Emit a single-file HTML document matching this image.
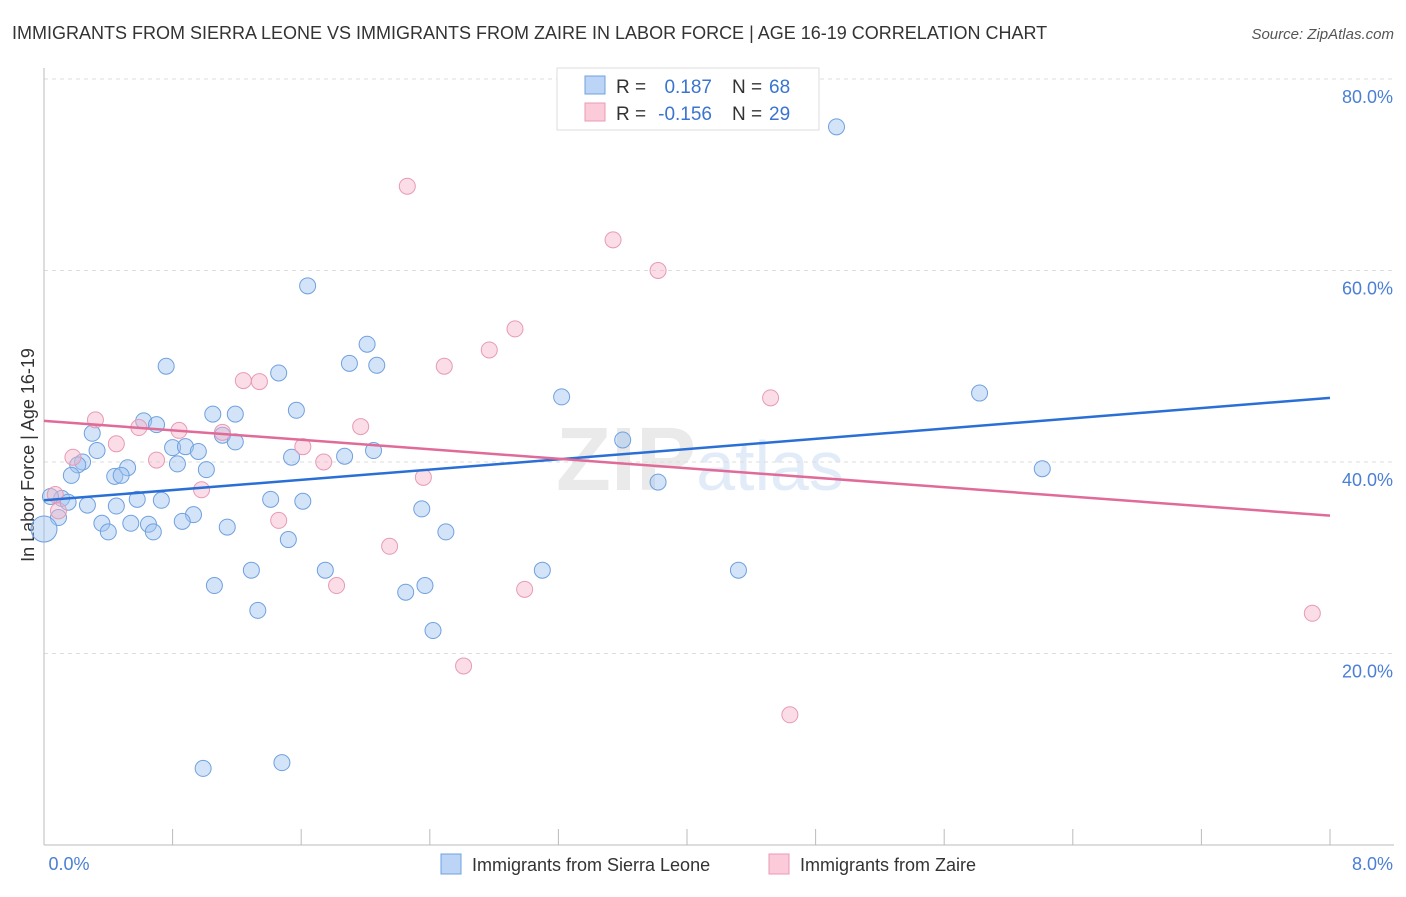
<!DOCTYPE html>
<html><head><meta charset="utf-8"><style>
body{margin:0;background:#fff;font-family:"Liberation Sans",sans-serif;}
svg text{font-family:"Liberation Sans",sans-serif;}
</style></head><body>
<svg id="chart" width="1406" height="892">
<text x="12" y="39" font-size="18" fill="#333">IMMIGRANTS FROM SIERRA LEONE VS IMMIGRANTS FROM ZAIRE IN LABOR FORCE | AGE 16-19 CORRELATION CHART</text>
<text x="1394" y="39" font-size="15" fill="#555" text-anchor="end" font-style="italic">Source: ZipAtlas.com</text>
<text x="34" y="455" font-size="18" fill="#333" text-anchor="middle" transform="rotate(-90 34 455)">In Labor Force | Age 16-19</text>
<text x="700" y="490" font-size="90" fill="#ddd" text-anchor="middle" font-family="Liberation Serif" font-weight="bold" opacity="0.6">ZIP<tspan fill="#cfe0f5" font-family="Liberation Sans" font-weight="normal" font-size="70">atlas</tspan></text>
<g id="grid"></g><g id="pts"></g><g id="lines"></g>
<text x="69" y="870" font-size="18" fill="#4a7fd4" text-anchor="middle">0.0%</text>
<text x="1393" y="870" font-size="18" fill="#4a7fd4" text-anchor="end">8.0%</text>
<g>
<rect x="557" y="68" width="262" height="62" fill="#fff" stroke="#ddd"/>
<rect x="585" y="76" width="20" height="18" fill="#bcd4f5" stroke="#6fa0e0"/>
<rect x="585" y="103" width="20" height="18" fill="#fbcbd9" stroke="#e89ab5"/>
<text x="616" y="93" font-size="19" fill="#333">R =</text>
<text x="712" y="93" font-size="19" fill="#3a74d0" text-anchor="end">0.187</text>
<text x="732" y="93" font-size="19" fill="#333">N =</text>
<text x="769" y="93" font-size="19" fill="#3a74d0">68</text>
<text x="616" y="120" font-size="19" fill="#333">R =</text>
<text x="712" y="120" font-size="19" fill="#3a74d0" text-anchor="end">-0.156</text>
<text x="732" y="120" font-size="19" fill="#333">N =</text>
<text x="769" y="120" font-size="19" fill="#3a74d0">29</text>
</g>
<g>
<rect x="441" y="854" width="20" height="20" fill="#bcd4f5" stroke="#6fa0e0"/>
<text x="472" y="871" font-size="18" fill="#333">Immigrants from Sierra Leone</text>
<rect x="769" y="854" width="20" height="20" fill="#fbcbd9" stroke="#e89ab5"/>
<text x="800" y="871" font-size="18" fill="#333">Immigrants from Zaire</text>
</g>
</svg>
<script>
const yTicks=[20,40,60,80];
const yTickLabels=["20.0%","40.0%","60.0%","80.0%"];
const blueX=[4.93,1.64,2.01,1.46,1.9,2.07,0.76,3.22,5.82,1.57,1.05,1.19,0.62,0.70,0.30,1.11,1.19,0.80,0.88,0.96,3.60,0.33,2.05,1.54,1.87,0.24,0.21,0.83,0.52,1.01,0.44,0.48,0.17,6.21,0.11,0.15,0.27,0.58,0.73,1.41,1.61,0.45,2.35,0.93,0.86,0.09,0.36,0.54,0.65,0.40,1.14,1.52,0.68,2.50,3.82,1.29,1.75,3.10,4.32,1.06,2.37,2.25,1.33,2.42,0.99,1.48,0.0,0.04];
const blueY=[75.0,58.4,52.3,49.3,50.3,50.1,50.0,46.8,47.2,45.4,45.0,45.0,44.3,43.9,43.0,42.8,42.1,41.5,41.6,41.1,42.3,41.2,41.2,40.5,40.6,40.0,39.7,39.8,39.4,39.2,38.5,38.6,38.6,39.3,36.2,35.8,35.5,36.1,36.0,36.1,35.9,35.4,35.1,34.5,33.8,34.2,33.6,33.6,33.5,32.7,33.2,31.9,32.7,32.7,37.9,28.7,28.7,28.7,28.7,27.1,27.1,26.4,24.5,22.4,8.0,8.6,33.0,36.4];
const pinkX=[2.26,3.54,3.82,2.93,2.77,2.49,1.24,1.34,4.52,0.32,0.59,0.84,1.11,0.45,1.61,1.97,0.18,0.70,1.74,2.36,0.98,1.46,2.15,1.82,2.99,2.61,4.64,7.89,0.07,0.09];
const pinkY=[68.8,63.2,60.0,53.9,51.7,50.0,48.5,48.4,46.7,44.4,43.6,43.3,43.1,41.9,41.6,43.7,40.5,40.2,40.0,38.4,37.1,33.9,31.2,27.1,26.7,18.7,13.6,24.2,36.6,34.9];
const blueTrend=[36.0,46.7];
const pinkTrend=[44.3,34.4];
const X=v=>44+v/8*1286, Y=v=>845-v*9.575;
const NS="http://www.w3.org/2000/svg";
function mk(t,a,p){const e=document.createElementNS(NS,t);for(const k in a)e.setAttribute(k,a[k]);p.appendChild(e);return e;}
const g=document.getElementById('grid');
yTicks.forEach((t,i)=>{
 const l=mk('line',{x1:44,x2:1394,y1:Y(t),y2:Y(t),stroke:'#ddd','stroke-dasharray':'4,4'},g);
 
 
 const tx=mk('text',{x:1393,y:Y(t)+24,'font-size':18,fill:'#4a7fd4','text-anchor':'end'},g);
 tx.textContent=yTickLabels[i];
 
 
});
const topLine=mk('line',{x1:44,x2:1394,y1:79,y2:79,stroke:'#ddd','stroke-dasharray':'4,4'},g);


const ax=mk('line',{x1:44,x2:1394,y1:845,y2:845,stroke:'#bbb'},g);


const ay=mk('line',{x1:44,x2:44,y1:68,y2:845,stroke:'#bbb'},g);


for(let i=1;i<=10;i++){const t=mk('line',{x1:X(i*0.8),x2:X(i*0.8),y1:829,y2:845,stroke:'#bbb'},g);
 
 }
const p=document.getElementById('pts');
blueX.forEach((v,i)=>{const c=mk('circle',{cx:X(v),cy:Y(blueY[i]),r:i==66?13:8,fill:'rgba(160,195,240,0.45)',stroke:'#6fa0e0','stroke-width':1},p);
 
 });
pinkX.forEach((v,i)=>{const c=mk('circle',{cx:X(v),cy:Y(pinkY[i]),r:8,fill:'rgba(245,180,200,0.45)',stroke:'#e89ab5','stroke-width':1},p);
 
 });
const L=document.getElementById('lines');
const bl=mk('line',{x1:X(0),x2:X(8),y1:Y(blueTrend[0]),y2:Y(blueTrend[1]),stroke:'#2a6fd6','stroke-width':2.5},L);


const pl=mk('line',{x1:X(0),x2:X(8),y1:Y(pinkTrend[0]),y2:Y(pinkTrend[1]),stroke:'#e06a98','stroke-width':2.5},L);


</script>
</body></html>
